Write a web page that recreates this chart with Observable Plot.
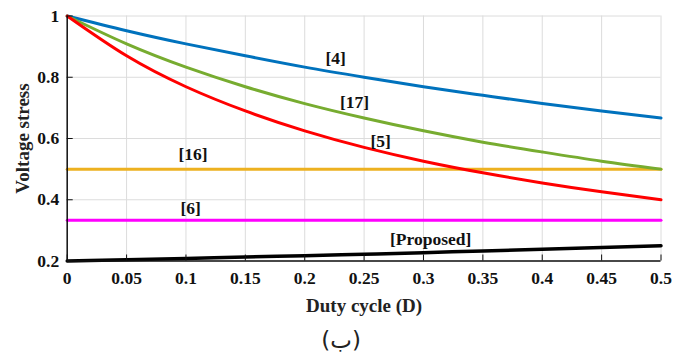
<!DOCTYPE html>
<html>
<head>
<meta charset="utf-8">
<script src="https://cdn.jsdelivr.net/npm/d3@7"></script>
<script src="https://cdn.jsdelivr.net/npm/@observablehq/plot@0.6"></script>
<style>
  html, body { margin: 0; padding: 0; background: #fff; }
</style>
</head>
<body>
<div id="chart"></div>
<script>
// Duty cycle samples
const duty = [0, 0.05, 0.1, 0.15, 0.2, 0.25, 0.3, 0.35, 0.4, 0.45, 0.5];
// Voltage stress series
const ref4 = [1, 0.952, 0.909, 0.870, 0.833, 0.800, 0.769, 0.741, 0.714, 0.690, 0.667];
const ref17 = [1, 0.909, 0.833, 0.769, 0.714, 0.667, 0.625, 0.588, 0.556, 0.526, 0.500];
const ref5 = [1, 0.870, 0.769, 0.690, 0.625, 0.571, 0.526, 0.488, 0.455, 0.426, 0.400];
const ref16 = [0.5, 0.5, 0.5, 0.5, 0.5, 0.5, 0.5, 0.5, 0.5, 0.5, 0.5];
const ref6 = [0.333, 0.333, 0.333, 0.333, 0.333, 0.333, 0.333, 0.333, 0.333, 0.333, 0.333];
const proposed = [0.200, 0.204, 0.208, 0.213, 0.217, 0.222, 0.227, 0.233, 0.238, 0.244, 0.250];

const xTicks = [0, 0.05, 0.1, 0.15, 0.2, 0.25, 0.3, 0.35, 0.4, 0.45, 0.5];
const yTicks = [0.2, 0.4, 0.6, 0.8, 1];

// Series label annotations (data coordinates)
const seriesLabels = [
  {text: "[4]", x: 0.226, y: 0.861},
  {text: "[17]", x: 0.242, y: 0.717},
  {text: "[5]", x: 0.264, y: 0.590},
  {text: "[16]", x: 0.106, y: 0.547},
  {text: "[6]", x: 0.104, y: 0.371},
  {text: "[Proposed]", x: 0.306, y: 0.270}
];

const toRows = (vals) => duty.map((d, i) => ({D: d, v: vals[i]}));
const fmt = d => String(+d.toFixed(2));
const serif = "'Liberation Serif', 'Times New Roman', serif";

const line = (vals, color, w = 3) =>
  Plot.line(toRows(vals), {x: "D", y: "v", stroke: color, strokeWidth: w, curve: "natural"});

const chart = Plot.plot({
  width: 673,
  height: 356,
  marginLeft: 66.7,
  marginRight: 12.5,
  marginTop: 15.5,
  marginBottom: 95.5,
  x: {domain: [0, 0.5]},
  y: {domain: [0.2, 1]},
  style: {fontFamily: serif, fontWeight: "bold", background: "white", color: "#111"},
  marks: [
    Plot.gridX(xTicks, {stroke: "#dcdcdc", strokeOpacity: 1, strokeWidth: 1}),
    Plot.gridY(yTicks, {stroke: "#dcdcdc", strokeOpacity: 1, strokeWidth: 1}),
    line(ref16, "#EDB120"),
    line(ref6, "#FF00FF"),
    line(ref4, "#0072BD"),
    line(ref17, "#77AC30"),
    line(ref5, "#FF0000"),
    line(proposed, "#000000", 3.5),
    Plot.ruleX([0], {stroke: "#111", strokeWidth: 1.5}),
    Plot.ruleY([0.2], {stroke: "#111", strokeWidth: 1.5}),
    Plot.axisX({ticks: xTicks, tickSize: -6, text: null, label: null, stroke: "#111"}),
    Plot.axisY({ticks: yTicks, tickSize: -6, text: null, label: null, stroke: "#111"}),
    Plot.axisX({ticks: xTicks, tickSize: 0, tickPadding: 11, tickFormat: fmt, label: null,
      fontSize: 17.5, fontWeight: "bold", fill: "#111"}),
    Plot.axisY({ticks: yTicks, tickSize: 0, tickPadding: 8, tickFormat: fmt, label: null,
      fontSize: 17.5, fontWeight: "bold", fill: "#111"}),
    Plot.text(seriesLabels, {x: "x", y: "y", text: "text", fontSize: 17.5, fontWeight: "bold", fill: "#111"}),
    Plot.text(["Duty cycle (D)"], {frameAnchor: "bottom", dy: 44.5, lineAnchor: "middle", textAnchor: "middle",
      text: d => d, fontSize: 19, fontWeight: "bold", fill: "#222"}),
    Plot.text(["Voltage stress"], {frameAnchor: "left", dx: -44.7, rotate: -90, textAnchor: "middle",
      lineAnchor: "middle", text: d => d, fontSize: 19, fontWeight: "bold", fill: "#222"}),
    Plot.text(["(ب)"], {frameAnchor: "bottom", dy: 80, dx: -23, lineAnchor: "middle", textAnchor: "middle",
      text: d => d, fontSize: 23, fontWeight: "normal", fill: "#222", fontFamily: "'DejaVu Sans', 'Noto Sans', sans-serif"})
  ]
});
document.getElementById("chart").appendChild(chart);
</script>
</body>
</html>
